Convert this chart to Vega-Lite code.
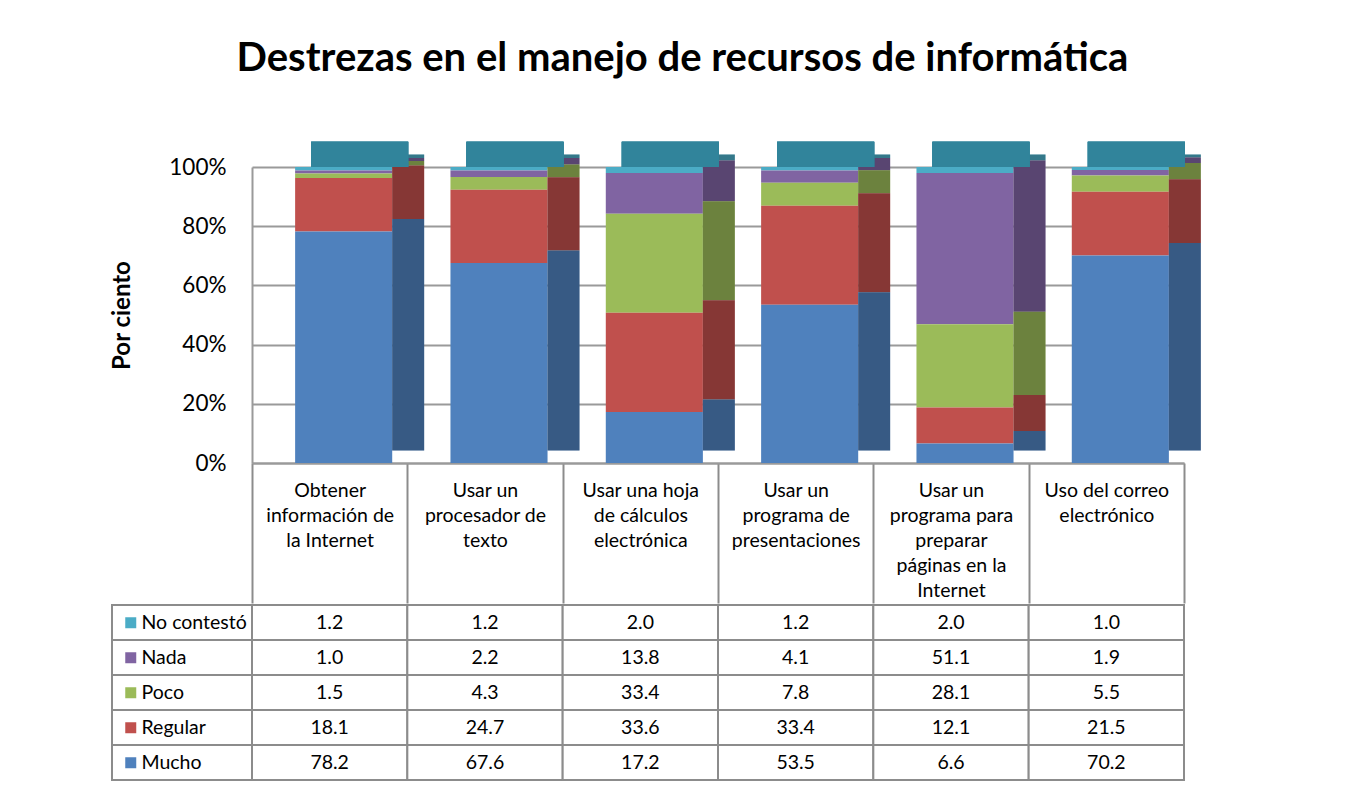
{
  "$schema": "https://vega.github.io/schema/vega-lite/v6.json",
  "background": "white",
  "padding": {"left": 110, "top": 38, "right": 0, "bottom": 0},
  "title": {"text": "Destrezas en el manejo de recursos de informática", "font": "Lato", "fontSize": 40, "fontWeight": "bold", "color": "black", "anchor": "middle", "dx": 27, "offset": 63},
  "config": {"font": "Lato", "view": {"stroke": null}},
  "datasets": {
    "d": [
      {"actividad": "Obtener\ninformación de\nla Internet", "respuesta": "No contestó", "nivel": 5, "porciento": 1.2},
      {"actividad": "Obtener\ninformación de\nla Internet", "respuesta": "Nada", "nivel": 4, "porciento": 1.0},
      {"actividad": "Obtener\ninformación de\nla Internet", "respuesta": "Poco", "nivel": 3, "porciento": 1.5},
      {"actividad": "Obtener\ninformación de\nla Internet", "respuesta": "Regular", "nivel": 2, "porciento": 18.1},
      {"actividad": "Obtener\ninformación de\nla Internet", "respuesta": "Mucho", "nivel": 1, "porciento": 78.2},
      {"actividad": "Usar un\nprocesador de\ntexto", "respuesta": "No contestó", "nivel": 5, "porciento": 1.2},
      {"actividad": "Usar un\nprocesador de\ntexto", "respuesta": "Nada", "nivel": 4, "porciento": 2.2},
      {"actividad": "Usar un\nprocesador de\ntexto", "respuesta": "Poco", "nivel": 3, "porciento": 4.3},
      {"actividad": "Usar un\nprocesador de\ntexto", "respuesta": "Regular", "nivel": 2, "porciento": 24.7},
      {"actividad": "Usar un\nprocesador de\ntexto", "respuesta": "Mucho", "nivel": 1, "porciento": 67.6},
      {"actividad": "Usar una hoja\nde cálculos\nelectrónica", "respuesta": "No contestó", "nivel": 5, "porciento": 2.0},
      {"actividad": "Usar una hoja\nde cálculos\nelectrónica", "respuesta": "Nada", "nivel": 4, "porciento": 13.8},
      {"actividad": "Usar una hoja\nde cálculos\nelectrónica", "respuesta": "Poco", "nivel": 3, "porciento": 33.4},
      {"actividad": "Usar una hoja\nde cálculos\nelectrónica", "respuesta": "Regular", "nivel": 2, "porciento": 33.6},
      {"actividad": "Usar una hoja\nde cálculos\nelectrónica", "respuesta": "Mucho", "nivel": 1, "porciento": 17.2},
      {"actividad": "Usar un\nprograma de\npresentaciones", "respuesta": "No contestó", "nivel": 5, "porciento": 1.2},
      {"actividad": "Usar un\nprograma de\npresentaciones", "respuesta": "Nada", "nivel": 4, "porciento": 4.1},
      {"actividad": "Usar un\nprograma de\npresentaciones", "respuesta": "Poco", "nivel": 3, "porciento": 7.8},
      {"actividad": "Usar un\nprograma de\npresentaciones", "respuesta": "Regular", "nivel": 2, "porciento": 33.4},
      {"actividad": "Usar un\nprograma de\npresentaciones", "respuesta": "Mucho", "nivel": 1, "porciento": 53.5},
      {"actividad": "Usar un\nprograma para\npreparar\npáginas en la\nInternet", "respuesta": "No contestó", "nivel": 5, "porciento": 2.0},
      {"actividad": "Usar un\nprograma para\npreparar\npáginas en la\nInternet", "respuesta": "Nada", "nivel": 4, "porciento": 51.1},
      {"actividad": "Usar un\nprograma para\npreparar\npáginas en la\nInternet", "respuesta": "Poco", "nivel": 3, "porciento": 28.1},
      {"actividad": "Usar un\nprograma para\npreparar\npáginas en la\nInternet", "respuesta": "Regular", "nivel": 2, "porciento": 12.1},
      {"actividad": "Usar un\nprograma para\npreparar\npáginas en la\nInternet", "respuesta": "Mucho", "nivel": 1, "porciento": 6.6},
      {"actividad": "Uso del correo\nelectrónico", "respuesta": "No contestó", "nivel": 5, "porciento": 1.0},
      {"actividad": "Uso del correo\nelectrónico", "respuesta": "Nada", "nivel": 4, "porciento": 1.9},
      {"actividad": "Uso del correo\nelectrónico", "respuesta": "Poco", "nivel": 3, "porciento": 5.5},
      {"actividad": "Uso del correo\nelectrónico", "respuesta": "Regular", "nivel": 2, "porciento": 21.5},
      {"actividad": "Uso del correo\nelectrónico", "respuesta": "Mucho", "nivel": 1, "porciento": 70.2}
    ]
  },
  "data": {"name": "d"},
  "spacing": 0,
  "vconcat": [
    {
      "width": 932,
      "height": 296,
      "encoding": {
        "x": {
          "field": "actividad", "type": "nominal", "sort": null,
          "scale": {"paddingInner": 0, "paddingOuter": 0},
          "axis": {
            "title": null, "labelAngle": 0, "labelExpr": "datum.value ? split(datum.value, '\\n') : ''",
            "labelAlign": "center", "labelBaseline": "top", "labelLineHeight": 25,
            "labelFontSize": 19.5, "labelFont": "Lato", "labelColor": "black", "labelLimit": 0,
            "labelPadding": -122, "labelOverlap": false,
            "tickBand": "extent", "tickSize": 140, "tickColor": "#8c8c8c", "tickWidth": 2,
            "domainColor": "#9a9a9a", "domainWidth": 2
          }
        }
      },
      "layer": [
        {
          "mark": {"type": "bar", "width": {"band": 0.625}, "xOffset": 14},
          "encoding": {
            "y": {
              "field": "porciento", "type": "quantitative", "stack": "normalize", "title": "Por ciento",
              "scale": {"domain": [0, 1], "nice": false},
              "axis": {
                "title": "Por ciento", "titleFont": "Lato", "titleFontSize": 24, "titleFontWeight": "bold", "titleColor": "black", "titlePadding": 28,
                "values": [0, 0.2, 0.4, 0.6, 0.8, 1], "format": ".0%",
                "labelFontSize": 22.5, "labelFont": "Lato", "labelColor": "black", "labelPadding": 26,
                "ticks": false, "minExtent": 90, "maxExtent": 90,
                "domainColor": "#9a9a9a", "domainWidth": 2,
                "grid": true, "gridColor": "#9a9a9a", "gridWidth": 2
              }
            },
            "order": {"field": "nivel", "type": "quantitative", "sort": "ascending"},
            "color": {
              "field": "respuesta", "type": "nominal",
              "scale": {"domain": ["Mucho", "Regular", "Poco", "Nada", "No contestó"], "range": ["#4F81BD", "#C0504D", "#9BBB59", "#8064A2", "#4BACC6"]},
              "legend": {
                "orient": "none", "legendX": -131, "legendY": 446, "title": null,
                "values": ["No contestó", "Nada", "Poco", "Regular", "Mucho"],
                "symbolType": "square", "symbolSize": 121, "symbolStrokeWidth": 0,
                "labelFontSize": 19.5, "labelFont": "Lato", "labelColor": "black", "labelOffset": 1,
                "rowPadding": 14, "padding": 0
              }
            }
          }
        },
        {
          "mark": {"type": "bar", "width": 32, "xOffset": 78.5, "yOffset": -12.5, "y2Offset": -12.5},
          "encoding": {
            "y": {"field": "porciento", "type": "quantitative", "stack": "normalize", "title": "Por ciento"},
            "order": {"field": "nivel", "type": "quantitative", "sort": "ascending"},
            "color": {"field": "respuesta", "type": "nominal"}
          }
        },
        {
          "mark": {"type": "bar", "width": 32, "xOffset": 78.5, "yOffset": -12.5, "y2Offset": -12.5, "color": "black", "opacity": 0.3},
          "encoding": {
            "y": {"field": "porciento", "type": "quantitative", "stack": "normalize", "title": "Por ciento"},
            "order": {"field": "nivel", "type": "quantitative", "sort": "ascending"},
            "detail": {"field": "respuesta", "type": "nominal"}
          }
        },
        {
          "mark": {"type": "bar", "width": {"band": 0.625}, "xOffset": 30, "color": "#31849B"},
          "encoding": {
            "y": {"datum": 1, "type": "quantitative", "title": "Por ciento"},
            "y2": {"datum": 1.085}
          }
        }
      ]
    },
    {
      "width": 932,
      "height": 175,
      "encoding": {
        "y": {"field": "respuesta", "type": "nominal", "sort": ["No contestó", "Nada", "Poco", "Regular", "Mucho"], "axis": null}
      },
      "layer": [
        {
          "mark": {"type": "rect", "fill": "white", "stroke": "#8c8c8c", "strokeWidth": 2},
          "encoding": {
            "x": {"datum": "Respuesta", "type": "nominal", "scale": {"range": [-140, 0], "paddingInner": 0, "paddingOuter": 0}, "axis": null}
          }
        },
        {
          "encoding": {
            "x": {"field": "actividad", "type": "nominal", "sort": null, "axis": null}
          },
          "layer": [
            {"mark": {"type": "rect", "fill": "white", "stroke": "#8c8c8c", "strokeWidth": 2}},
            {"mark": {"type": "text", "fontSize": 19.5, "font": "Lato", "color": "black"}, "encoding": {"text": {"field": "porciento", "type": "quantitative", "format": ".1f"}}}
          ]
        }
      ],
      "resolve": {"scale": {"x": "independent"}}
    }
  ]
}
